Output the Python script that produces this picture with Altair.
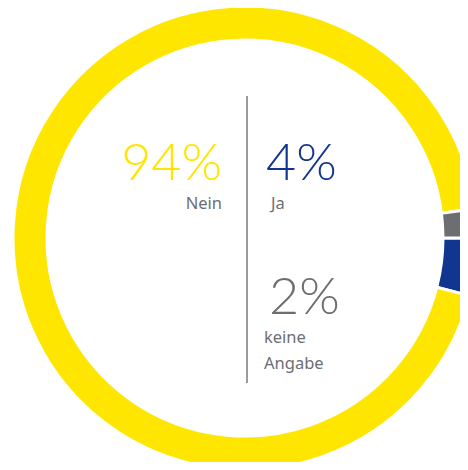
import math
import altair as alt
import pandas as pd

categories = ["Ja", "Nein", "keine Angabe"]
values = [4, 94, 2]
colors = ["#11368F", "#FFE600", "#6D6E71"]
order = [1, 2, 3]

df = pd.DataFrame({"cat": categories, "value": values, "ord": order})
df["pct"] = df["value"].astype(str) + "%"

CX, CY = 237, 230
start = math.pi / 2

arcs = alt.Chart(df).mark_arc(radius=232, radius2=198, stroke="white", strokeWidth=3).encode(
    x=alt.value(CX),
    y=alt.value(CY),
    theta=alt.Theta("value:Q", stack=True, scale=alt.Scale(range=[start, start + 2 * math.pi])),
    color=alt.Color("cat:N", scale=alt.Scale(domain=categories, range=colors), legend=None),
    order=alt.Order("ord:Q"),
)

divider = alt.Chart(df).mark_rule(color="#9B9B9B", strokeWidth=2).encode(
    x=alt.value(239), y=alt.value(88), y2=alt.value(375)
)

BIG = dict(font="Lato", fontSize=52, fontWeight=300, baseline="alphabetic")
SMALL = dict(font="Noto Sans", fontSize=16.5, color="#6D6E71", baseline="alphabetic")

def big(cat, x, y, align, color):
    return alt.Chart(df).transform_filter(alt.datum.cat == cat).mark_text(
        align=align, color=color, **BIG
    ).encode(x=alt.value(x), y=alt.value(y), text="pct:N")

def small(text, x, y, align):
    return alt.Chart(df).transform_filter(alt.datum.cat == categories[0]).mark_text(
        align=align, **SMALL
    ).encode(x=alt.value(x), y=alt.value(y), text=alt.value(text))

layers = [
    arcs,
    divider,
    big("Nein", 214, 172, "right", colors[1]),
    big("Ja", 258, 172, "left", colors[0]),
    big("keine Angabe", 261, 306, "left", colors[2]),
    small("Nein", 214, 201, "right"),
    small("Ja", 263, 201, "left"),
    small("keine", 256, 335, "left"),
    small("Angabe", 256, 361, "left"),
]

chart = alt.layer(*layers).properties(
    width=452, height=454,
    autosize=alt.AutoSizeParams(type="none"),
    padding=0,
).configure_view(stroke=None)

chart.save("out.html", embed_options={"renderer": "svg", "actions": False})
